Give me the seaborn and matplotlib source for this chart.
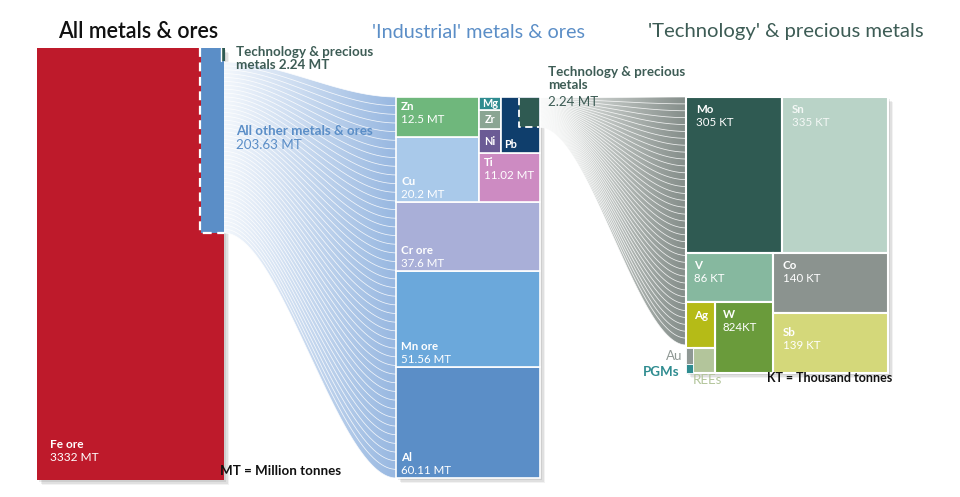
import numpy as np
import seaborn as sns
import matplotlib.pyplot as plt
from matplotlib.patches import Rectangle, Polygon
from matplotlib.colors import LinearSegmentedColormap

# ---- data ----
fe_value = 3332            # MT
other_total = 203.63       # MT, all other metals & ores
tech_total = 2.24          # MT, technology & precious metals

industrial_names = ["Al", "Mn ore", "Cr ore", "Cu", "Zn", "Ti", "Ni", "Zr", "Mg", "Pb"]
industrial_values = [60.11, 51.56, 37.6, 20.2, 12.5, 11.02, 2.0, 1.5, 1.1, 6.04]
industrial_labels = ["60.11 MT", "51.56 MT", "37.6 MT", "20.2 MT", "12.5 MT", "11.02 MT", "", "", "", ""]

tech_names = ["Mo", "Sn", "V", "Co", "Sb", "W", "Ag", "REEs", "Au", "PGMs"]
tech_values = [305, 335, 86, 140, 139, 82.4, 27, 11, 3, 0.4]   # KT (small ones estimated)
tech_labels = ["305 KT", "335 KT", "86 KT", "140 KT", "139 KT", "824KT", "", "", "", ""]

# ---- styles ----
sns.set_theme(style="white")
plt.rcParams['font.family'] = ['Lato', 'DejaVu Sans']

colors = {
    "Fe": "#be1a2b", "bar": "#5b8ec7", "tech": "#2f5a52",
    "Al": "#5b8ec7", "Mn ore": "#6ba8db", "Cr ore": "#a9afd8", "Cu": "#a9c9ea",
    "Zn": "#6fb77c", "Ti": "#cd8bc2", "Mg": "#2f8c90", "Zr": "#8aa593",
    "Ni": "#6b5b95", "Pb": "#0f3e6c",
    "Mo": "#2f5a52", "Sn": "#b9d3c7", "V": "#86b89f", "Co": "#8b938f",
    "Sb": "#d4d87a", "W": "#6a9b3b", "Ag": "#b5bb17", "REEs": "#b3c59b",
    "Au": "#8f9894", "PGMs": "#2f8c90",
}
title_blue = "#5b8ec7"
title_green = "#3d5c55"
note_size = 9.6

fig = plt.figure(figsize=(9.6, 4.97), dpi=100)
ax = fig.add_axes([0, 0, 1, 1])
ax.set_xlim(0, 960)
ax.set_ylim(497, 0)
ax.axis("off")


def split_v(rect, vals):
    x, y, w, h = rect
    out, tot = [], sum(vals)
    for v in vals:
        hh = h * v / tot
        out.append((x, y, w, hh))
        y += hh
    return out


def split_h(rect, vals):
    x, y, w, h = rect
    out, tot = [], sum(vals)
    for v in vals:
        ww = w * v / tot
        out.append((x, y, ww, h))
        x += ww
    return out


def box(rect, color, lw=1.2, z=3):
    x, y, w, h = rect
    ax.add_patch(Rectangle((x, y), w, h, facecolor=color, edgecolor="white", lw=lw, zorder=z))


def shadow(rect):
    x, y, w, h = rect
    for k, a in [(5, 0.05), (3.5, 0.07), (2, 0.08)]:
        ax.add_patch(Rectangle((x + k, y + k), w, h, facecolor="black", edgecolor="none",
                               alpha=a, zorder=1))


def label(x, y, name, value, color="white", size=8.3):
    ax.text(x, y, name, color=color, fontsize=size, fontweight="bold", va="top", zorder=6)
    if value:
        ax.text(x, y + 13, value, color=color, fontsize=size, va="top", zorder=6)


def flow(x0, x1, src, dst, c0, c1, n=40, linecol="white"):
    t = np.linspace(0, 1, 200)
    s = t * t * (3 - 2 * t)
    xs = x0 + (x1 - x0) * t
    top = src[0] + (dst[0] - src[0]) * s
    bot = src[1] + (dst[1] - src[1]) * s
    verts = np.vstack([np.column_stack([xs, top]), np.column_stack([xs[::-1], bot[::-1]])])
    poly = Polygon(verts, closed=True, facecolor="none", edgecolor="none")
    ax.add_patch(poly)
    cmap = LinearSegmentedColormap.from_list("f", sns.blend_palette([c0, c1], 8))
    grad = np.linspace(0, 1, 256).reshape(1, -1)
    im = ax.imshow(grad, extent=[x0, x1, max(bot.max(), top.max()), min(top.min(), bot.min())],
                   aspect="auto", cmap=cmap, zorder=2)
    im.set_clip_path(poly)
    for i in range(n + 1):
        f = i / n
        yl = src[0] + f * (src[1] - src[0])
        yr = dst[0] + f * (dst[1] - dst[0])
        ax.plot(xs, yl + (yr - yl) * s, color=linecol, lw=0.55, alpha=0.85, zorder=2.5)


# ---- left: all metals & ores ----
fe_rect = (37, 48, 187, 432)
shadow(fe_rect)
box(fe_rect, colors["Fe"], lw=0)
bar_rect = (201, 48, 23, 185)
box(bar_rect, colors["bar"], lw=0, z=4)
ax.plot([200, 200, 224], [48, 233, 233], color="white", lw=1.6, ls=(0, (4, 2.5)), zorder=5)
ax.add_patch(Rectangle((222, 48), 3, 13, facecolor=colors["tech"], edgecolor="none", zorder=5))
ax.plot([221, 221], [48, 61], color="white", lw=1, zorder=5)
label(50, 439, "Fe ore", f"{fe_value} MT", size=8.6)

ax.text(236, 46, "Technology & precious\nmetals 2.24 MT", color=title_green, fontsize=note_size,
        fontweight="bold", va="top", linespacing=1.1, zorder=6)
ax.text(236, 125, "All other metals & ores", color=title_blue, fontsize=note_size,
        fontweight="bold", va="top", zorder=6)
ax.text(236, 139, f"{other_total} MT", color=title_blue, fontsize=note_size, va="top", zorder=6)
ax.text(220, 465, "MT = Million tonnes", color="#111", fontsize=9.6, fontweight="bold",
        va="top", zorder=6)

# ---- middle: industrial metals treemap ----
iv = dict(zip(industrial_names, industrial_values))
il = dict(zip(industrial_names, industrial_labels))
mid_rect = (396, 97, 144, 381)
shadow(mid_rect)
upper_total = iv["Zn"] + iv["Cu"] + iv["Ti"] + iv["Ni"] + iv["Zr"] + iv["Mg"] + iv["Pb"] + tech_total
upper, cr, mn, al = split_v(mid_rect, [upper_total, iv["Cr ore"], iv["Mn ore"], iv["Al"]])
zc, right = split_h(upper, [iv["Zn"] + iv["Cu"], upper_total - iv["Zn"] - iv["Cu"]])
zn, cu = split_v(zc, [iv["Zn"], iv["Cu"]])
small, ti = split_v(right, [iv["Mg"] + iv["Zr"] + iv["Ni"] + iv["Pb"] + tech_total, iv["Ti"]])
mzn, pbcol = split_h(small, [iv["Mg"] + iv["Zr"] + iv["Ni"], iv["Pb"] + tech_total])
mg, zr, ni = split_v(mzn, [iv["Mg"], iv["Zr"], iv["Ni"]])
rects = {"Al": al, "Mn ore": mn, "Cr ore": cr, "Cu": cu, "Zn": zn, "Ti": ti,
         "Mg": mg, "Zr": zr, "Ni": ni, "Pb": pbcol}
for name in industrial_names:
    box(rects[name], colors[name])

# tech part sitting inside the Pb block
px, py, pw, ph = pbcol
tw = pw * 0.52
th = ph * tech_total / (iv["Pb"] + tech_total) / 0.52
tech_rect = (px + pw - tw - 1, py + 1, tw, th)
ax.add_patch(Rectangle(tech_rect[:2], tw, th, facecolor=colors["tech"], edgecolor="none", zorder=4))
ax.plot([tech_rect[0], tech_rect[0], px + pw - 1], [py + 1, py + th + 1, py + th + 1],
        color="white", lw=1.3, ls=(0, (4, 2.5)), zorder=5)

for name in ["Al", "Mn ore", "Cr ore", "Cu"]:
    x, y, w, h = rects[name]
    label(x + 5, y + h - 26, name, il[name])
label(zn[0] + 5, zn[1] + 4, "Zn", il["Zn"])
label(ti[0] + 5, ti[1] + 4, "Ti", il["Ti"])
for name in ["Mg", "Zr", "Ni"]:
    x, y, w, h = rects[name]
    ax.text(x + w / 2, y + h / 2, name, color="white", fontsize=7.8, fontweight="bold",
            ha="center", va="center", zorder=6)
ax.text(px + 3, py + ph - 3, "Pb", color="white", fontsize=7.8, fontweight="bold",
        va="bottom", zorder=6)

# ---- flows ----
flow(224, 396, (62, 233), (97, 478), "#f3f7fc", "#98b8e1", n=44)
flow(px + pw, 686, (tech_rect[1], tech_rect[1] + th), (97, 345), "#f0f2f1", "#858e8a", n=36)

ax.text(548, 66, "Technology & precious\nmetals", color=title_green, fontsize=note_size,
        fontweight="bold", va="top", linespacing=1.1, zorder=6)
ax.text(548, 96, f"{tech_total} MT", color=title_green, fontsize=note_size, va="top", zorder=6)

# ---- right: technology & precious metals treemap ----
tv = dict(zip(tech_names, tech_values))
tl = dict(zip(tech_names, tech_labels))
right_rect = (686, 97, 202, 276)
shadow(right_rect)
tot_top = tv["Mo"] + tv["Sn"]
tot_bot = sum(tech_values) - tot_top
top_row, bot_row = split_v(right_rect, [tot_top, tot_bot])
mo, sn = split_h(top_row, [tv["Mo"], tv["Sn"]])
left_vals = tv["V"] + tv["W"] + tv["Ag"] + tv["REEs"] + tv["Au"] + tv["PGMs"]
lcol, rcol = split_h(bot_row, [left_vals, tv["Co"] + tv["Sb"]])
co, sb = split_v(rcol, [tv["Co"], tv["Sb"]])
v_r, lower = split_v(lcol, [tv["V"], left_vals - tv["V"]])
sg_total = tv["Ag"] + tv["REEs"] + tv["Au"] + tv["PGMs"]
sg, w_r = split_h(lower, [sg_total, tv["W"]])
ag, tiny = split_v(sg, [tv["Ag"], sg_total - tv["Ag"]])
aupg, rees = split_h(tiny, [tv["Au"] + tv["PGMs"], tv["REEs"]])
au, pgm = split_v(aupg, [tv["Au"], tv["PGMs"] * 4])
trects = {"Mo": mo, "Sn": sn, "V": v_r, "Co": co, "Sb": sb, "W": w_r, "Ag": ag,
          "REEs": rees, "Au": au, "PGMs": pgm}
for name in tech_names:
    box(trects[name], colors[name], lw=1.5 if name not in ("Au", "PGMs") else 0.6)

for name in ["Mo", "Sn", "V", "Co", "W", "Sb"]:
    x, y, w, h = trects[name]
    label(x + 10 if name in ("Mo", "Sn", "Co", "Sb") else x + 8, y + 7 if name != "Sb" else y + 14,
          name, tl[name], color="white" if name != "Sn" else "#f4f8f6")
label(ag[0] + 8, ag[1] + 8, "Ag", "")
ax.text(au[0] - 4, au[1] + au[3] / 2, "Au", color="#8f9894", fontsize=note_size, ha="right",
        va="center", zorder=6)
ax.text(au[0] - 6, 372, "PGMs", color=colors["PGMs"], fontsize=note_size, fontweight="bold",
        ha="right", va="center", zorder=6)
ax.text(rees[0], 380, "REEs", color="#b3c59b", fontsize=note_size, va="center", zorder=6)
ax.text(767, 378, "KT = Thousand tonnes", color="#111", fontsize=9.0, fontweight="bold",
        va="center", zorder=6)

# ---- titles ----
ax.text(58, 32, "All metals & ores", color="#111", fontsize=15.5, fontweight="semibold",
        va="center")
ax.text(478, 32, "'Industrial' metals & ores", color=title_blue, fontsize=14.3, ha="center",
        va="center")
ax.text(648, 32, "'Technology' & precious metals", color=title_green, fontsize=14.6,
        va="center")

ax.set_xlim(0, 960)
ax.set_ylim(497, 0)
fig.savefig("out.png", dpi=100, facecolor="white")
